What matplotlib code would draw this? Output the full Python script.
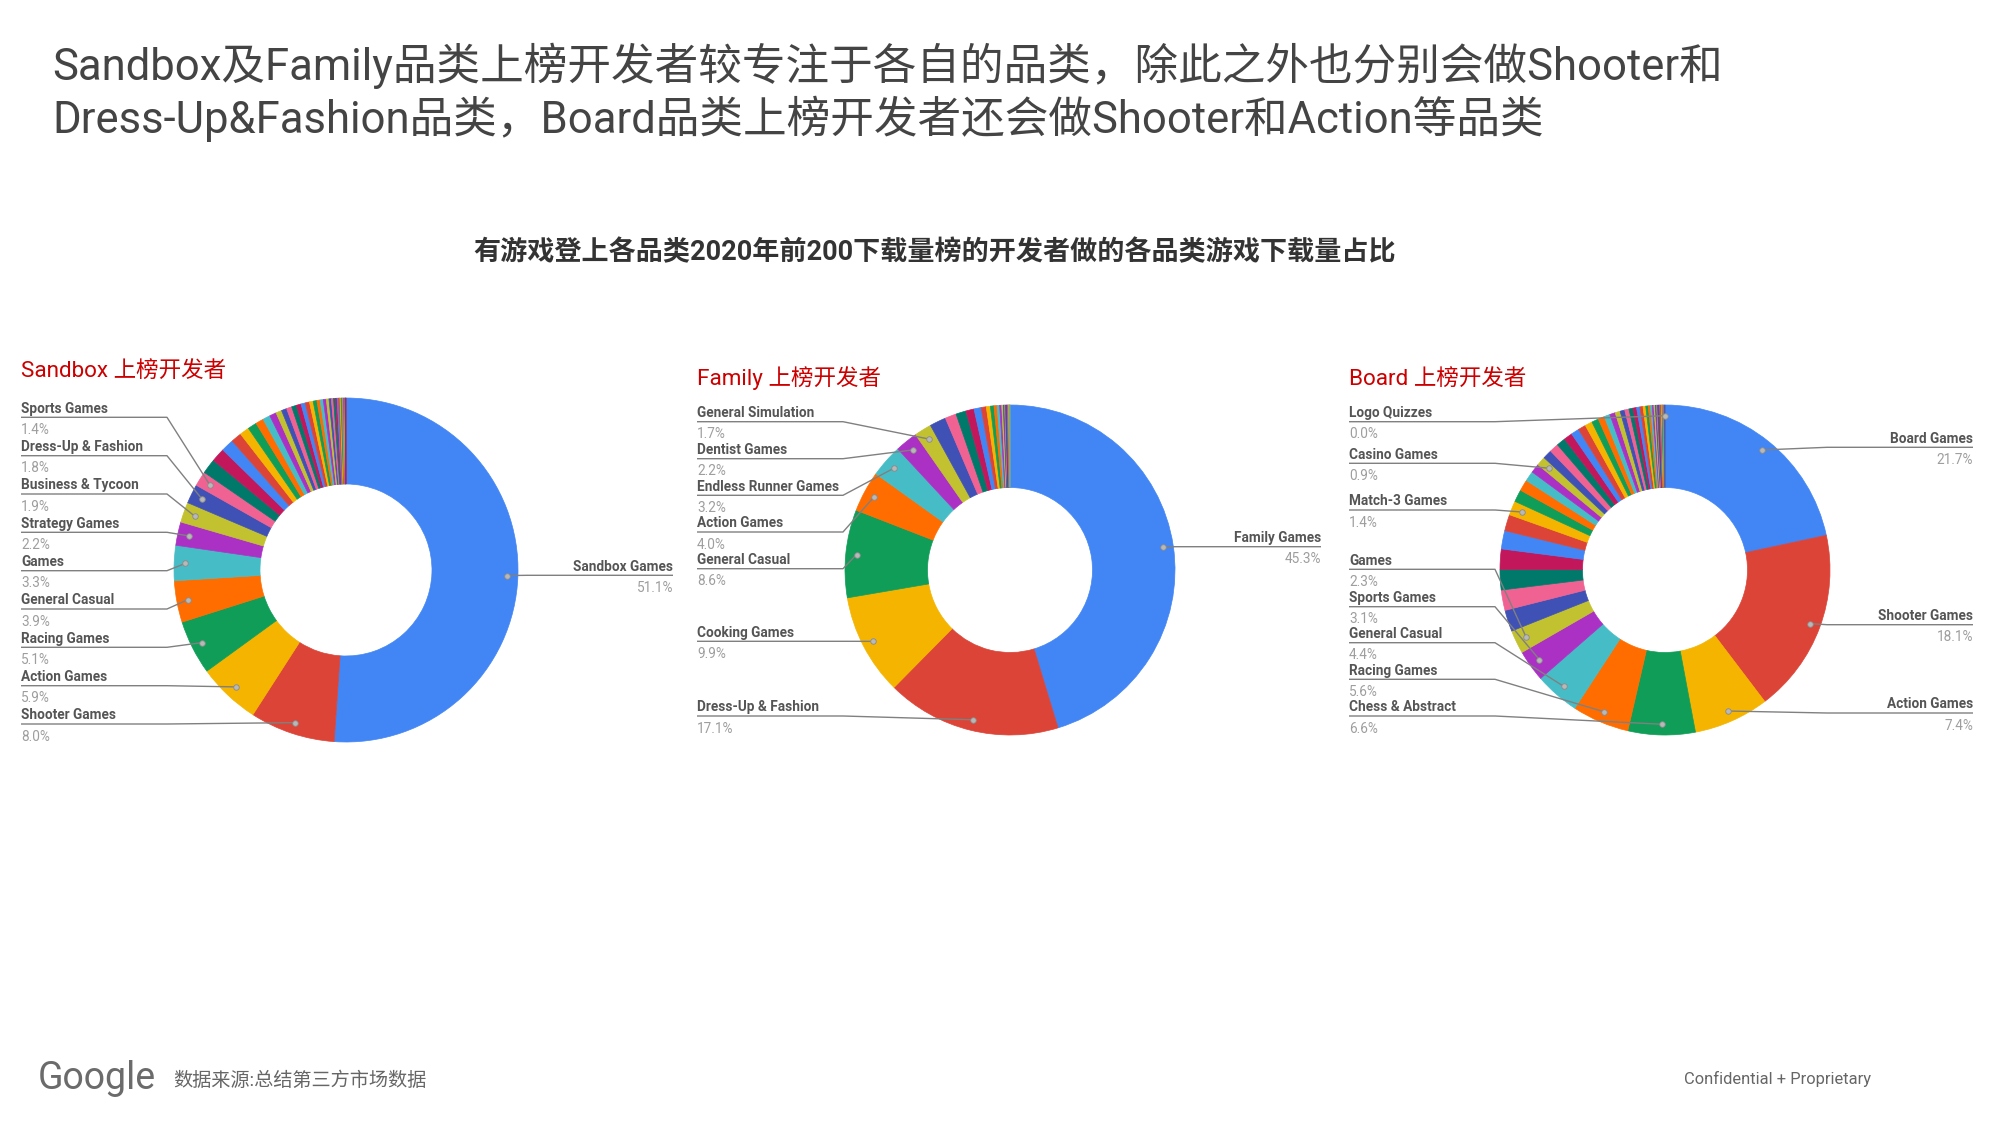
import matplotlib
matplotlib.use("Agg")
import matplotlib.pyplot as plt
import numpy as np

plt.rcParams['font.family'] = ['Roboto', 'Noto Sans CJK SC', 'DejaVu Sans']

# ---------------- data ----------------
title_lines = ["Sandbox及Family品类上榜开发者较专注于各自的品类，除此之外也分别会做Shooter和",
               "Dress-Up&Fashion品类，Board品类上榜开发者还会做Shooter和Action等品类"]
subtitle = "有游戏登上各品类2020年前200下载量榜的开发者做的各品类游戏下载量占比"
source_text = "数据来源:总结第三方市场数据"
confidential_text = "Confidential + Proprietary"

sandbox_title = "Sandbox 上榜开发者"
sandbox_categories = ["Sandbox Games", "Shooter Games", "Action Games", "Racing Games",
                      "General Casual", "Games", "Strategy Games", "Business & Tycoon",
                      "Dress-Up & Fashion", "Sports Games"] + [""] * 38
sandbox_values = [51.1, 8.0, 5.9, 5.1, 3.9, 3.3, 2.2, 1.9, 1.8, 1.4,
                  1.4, 1.3, 1.2, 1.0, 0.9, 0.85, 0.75, 0.7, 0.64, 0.55,
                  0.5, 0.5, 0.45, 0.45, 0.4, 0.4, 0.35, 0.35, 0.3, 0.3,
                  0.28, 0.25, 0.22, 0.2, 0.18, 0.16, 0.14, 0.12, 0.1, 0.09,
                  0.08, 0.07, 0.06, 0.05, 0.04, 0.03, 0.02, 0.02]

family_title = "Family 上榜开发者"
family_categories = ["Family Games", "Dress-Up & Fashion", "Cooking Games", "General Casual",
                     "Action Games", "Endless Runner Games", "Dentist Games",
                     "General Simulation"] + [""] * 22
family_values = [45.3, 17.1, 9.9, 8.6, 4.0, 3.2, 2.2, 1.7,
                 1.6, 1.1, 1.0, 0.8, 0.7, 0.5, 0.4, 0.35, 0.3, 0.25,
                 0.2, 0.15, 0.12, 0.1, 0.09, 0.08, 0.07, 0.06, 0.05, 0.04, 0.03, 0.01]

board_title = "Board 上榜开发者"
board_categories = (["Board Games", "Shooter Games", "Action Games", "Chess & Abstract",
                     "Racing Games", "General Casual", "Sports Games", "Games",
                     "", "", "", "", "", "", "Match-3 Games", "", "", "", "", "Casino Games"]
                    + [""] * 36 + ["Logo Quizzes"])
board_values = ([21.7, 18.1, 7.4, 6.6, 5.6, 4.4, 3.1, 2.3,
                 2.1, 2.0, 2.0, 2.0, 1.8, 1.6, 1.4, 1.2, 1.1, 1.0, 0.9, 0.9]
                + [0.9, 0.9, 0.88, 0.85, 0.8, 0.76, 0.72, 0.68, 0.62, 0.58,
                   0.54, 0.5, 0.46, 0.42, 0.39, 0.36, 0.33, 0.3, 0.27, 0.24,
                   0.21, 0.18, 0.16, 0.14, 0.12, 0.1, 0.1, 0.1, 0.08, 0.08,
                   0.07, 0.06, 0.06, 0.06, 0.05, 0.04]
                + [0.02])

palette = ['#4285F4', '#DB4437', '#F4B400', '#0F9D58', '#FF6D00', '#46BDC6',
           '#AB30C4', '#C2C130', '#3F51B5', '#F06292', '#00796B', '#C2185B']

# ---------------- layout ----------------
W, H = 2000, 1125
fig = plt.figure(figsize=(20, 11.25), dpi=100)
fig.patch.set_facecolor('white')

GRAY_TXT = '#555555'
PCT_TXT = '#9E9E9E'
LINE_C = '#808080'
RED = '#CC0000'

panels = [
    dict(title=sandbox_title, tx=21, ty=377, cx=346, cy=570, r=172,
         names=sandbox_categories, values=sandbox_values, lx=21, rx=673,
         layout={"Sports Games": ('L', 417.3), "Dress-Up & Fashion": ('L', 455.7),
                 "Business & Tycoon": ('L', 494.0), "Strategy Games": ('L', 532.3),
                 "Games": ('L', 570.7), "General Casual": ('L', 609.0),
                 "Racing Games": ('L', 647.3), "Action Games": ('L', 685.7),
                 "Shooter Games": ('L', 724.0), "Sandbox Games": ('R', 575.3)}),
    dict(title=family_title, tx=697, ty=385, cx=1010, cy=570, r=165,
         names=family_categories, values=family_values, lx=697, rx=1321,
         layout={"General Simulation": ('L', 421.7), "Dentist Games": ('L', 458.7),
                 "Endless Runner Games": ('L', 495.3), "Action Games": ('L', 532.0),
                 "General Casual": ('L', 568.7), "Cooking Games": ('L', 641.3),
                 "Dress-Up & Fashion": ('L', 716.0), "Family Games": ('R', 546.7)}),
    dict(title=board_title, tx=1349, ty=385, cx=1665, cy=570, r=165,
         names=board_categories, values=board_values, lx=1349, rx=1973,
         layout={"Logo Quizzes": ('L', 421.7), "Casino Games": ('L', 463.3),
                 "Match-3 Games": ('L', 510.0), "Games": ('L', 569.3),
                 "Sports Games": ('L', 606.7), "General Casual": ('L', 642.7),
                 "Racing Games": ('L', 679.3), "Chess & Abstract": ('L', 716.0),
                 "Board Games": ('R', 447.3), "Shooter Games": ('R', 624.7),
                 "Action Games": ('R', 713.0)}),
]

for p in panels:
    cx, cy, r = p['cx'], p['cy'], p['r']
    ax = fig.add_axes([(cx - r) / W, (H - cy - r) / H, 2 * r / W, 2 * r / H])
    cols = [palette[i % len(palette)] for i in range(len(p['values']))]
    wedges, _ = ax.pie(p['values'], colors=cols, startangle=90, counterclock=False,
                       radius=1.0, normalize=True,
                       wedgeprops=dict(width=0.5, linewidth=0.5))
    for w in wedges:
        w.set_edgecolor(w.get_facecolor())
    ax.set_xlim(-1, 1)
    ax.set_ylim(-1, 1)
    ax.axis('off')
    p['wedges'] = wedges

ov = fig.add_axes([0, 0, 1, 1])
ov.set_xlim(0, W)
ov.set_ylim(H, 0)
ov.axis('off')

# titles
ov.text(52, 80, title_lines[0], fontsize=31.4, color='#444444', ha='left', va='baseline')
ov.text(52, 133, title_lines[1], fontsize=31.4, color='#444444', ha='left', va='baseline')
ov.text(935, 253, subtitle, fontsize=19.5, fontweight='bold', color='#333333',
        ha='center', va='center')

SEG = 146
for p in panels:
    cx, cy, r = p['cx'], p['cy'], p['r']
    ov.text(p['tx'], p['ty'], p['title'], fontsize=16.2, color=RED, ha='left', va='baseline')
    for name, (side, uy) in p['layout'].items():
        i = p['names'].index(name)
        w = p['wedges'][i]
        mid = np.deg2rad((w.theta1 + w.theta2) / 2.0)
        dx = cx + 0.935 * r * np.cos(mid)
        dy = cy - 0.935 * r * np.sin(mid)
        val = p['values'][i]
        if side == 'L':
            x0 = p['lx']
            ov.plot([x0, x0 + SEG, dx], [uy, uy, dy], color=LINE_C, lw=1.0,
                    solid_capstyle='butt', zorder=5)
            ha = 'left'
        else:
            x0 = p['rx']
            ov.plot([x0, x0 - SEG, dx], [uy, uy, dy], color=LINE_C, lw=1.0,
                    solid_capstyle='butt', zorder=5)
            ha = 'right'
        ov.plot([dx], [dy], marker='o', ms=4, mfc='#B8B8B8', mec='#8A8A8A', mew=0.6, zorder=6)
        ov.text(x0, uy - 4.6, name, fontsize=9.8, fontweight='bold', color=GRAY_TXT,
                ha=ha, va='baseline')
        ov.text(x0, uy + 16.7, f"{val:.1f}%", fontsize=9.8, color=PCT_TXT,
                ha=ha, va='baseline')

# footer
ov.text(38, 1089, "Google", fontsize=27, color='#6B6B6B', ha='left', va='baseline')
ov.text(173, 1081, source_text, fontsize=13.8, color='#666666', ha='left', va='center')
ov.text(1684, 1084, confidential_text, fontsize=11.9, color='#666666', ha='left', va='baseline')

fig.savefig("out.png", dpi=100, facecolor='white')
